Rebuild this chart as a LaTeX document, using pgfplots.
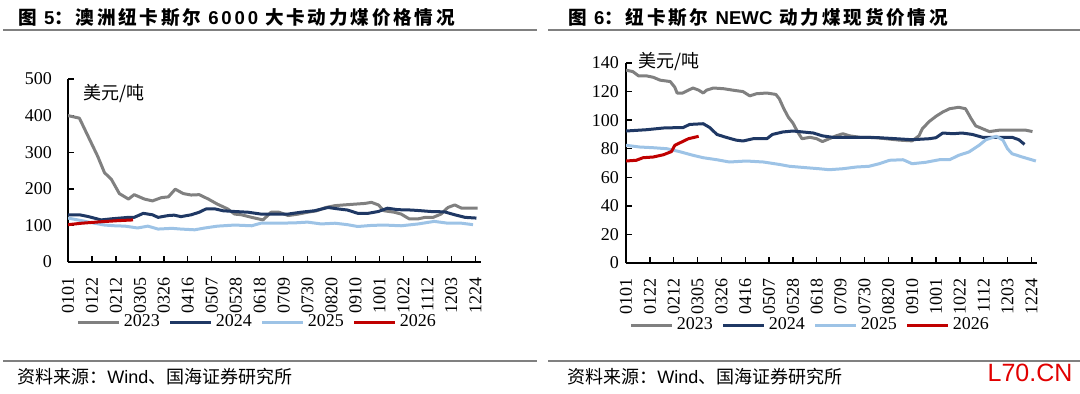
\documentclass[border=0pt]{standalone}
\usepackage{fontspec}
\usepackage{pgfplots}
\pgfplotsset{compat=1.18}
\setmainfont{Liberation Serif}
\newfontfamily\serif{Liberation Serif}
\newfontfamily\cjk{Noto Sans CJK SC}
\newfontfamily\titlecjk{Noto Sans CJK SC}[LetterSpace=15]
\newfontfamily\titlearial{Liberation Sans}[LetterSpace=15]
\newfontfamily\arial{Liberation Sans}
\definecolor{cgray}{RGB}{128,128,128}
\definecolor{cdark}{RGB}{31,56,100}
\definecolor{clight}{RGB}{157,195,230}
\definecolor{cred}{RGB}{192,0,0}
\definecolor{rulegray}{RGB}{128,128,128}
\newcommand\tl[1]{{\fontsize{9}{10}\selectfont\serif #1}}
\pgfplotsset{
  coalstyle/.style={
    scale only axis,
    clip mode=individual,
    axis lines=left,
    axis line style={-, line width=0.7pt, black},
    tick align=inside,
    major tick length=3pt,
    tick style={black, line width=0.7pt},
    xmin=0, xmax=362, ymin=0,
    xtick={0,21,42,63,84,105,126,147,168,189,210,231,252,273,294,315,336,357},
    xticklabels={\tl{0101},\tl{0122},\tl{0212},\tl{0305},\tl{0326},\tl{0416},\tl{0507},\tl{0528},\tl{0618},\tl{0709},\tl{0730},\tl{0820},\tl{0910},\tl{1001},\tl{1022},\tl{1112},\tl{1203},\tl{1224}},
    yticklabel={\tl{\pgfmathprintnumber{\tick}}},
    /pgf/number format/assume math mode=true,
    xticklabel style={rotate=90, anchor=east},
    xticklabel shift=4pt,
    legend columns=4,
    legend style={draw=none, fill=none, font=\fontsize{9}{10}\selectfont\serif, inner sep=0pt,
      nodes={inner sep=1.5pt},
      /tikz/every even column/.append style={column sep=3pt}},
    legend image code/.code={\draw[#1] (0pt,0pt) -- (20.5pt,0pt);},
    every axis plot/.append style={line width=1.5pt, no markers, line join=round},
  }
}
\begin{document}
\begin{tikzpicture}
\path[use as bounding box] (0,0) rectangle (540pt,196.5pt);
% titles and rules
\node[anchor=west, inner sep=0pt] at (9pt,187.5pt) {\fontsize{9.3}{10}\selectfont\titlecjk\bfseries 图 {\titlearial\bfseries 5}：澳洲纽卡斯尔 {\titlearial\bfseries 6000} 大卡动力煤价格情况};
\node[anchor=west, inner sep=0pt] at (284pt,187.5pt) {\fontsize{9.3}{10}\selectfont\titlecjk\bfseries 图 {\titlearial\bfseries 6}：纽卡斯尔 {\arial\bfseries NEWC} 动力煤现货价情况};
\draw[rulegray, line width=1pt] (1.5pt,181.5pt) -- (268.5pt,181.5pt);
\draw[rulegray, line width=1pt] (274pt,181.5pt) -- (540pt,181.5pt);
\draw[rulegray, line width=1pt] (1.5pt,16pt) -- (268.5pt,16pt);
\draw[rulegray, line width=1pt] (274pt,16pt) -- (540pt,16pt);
\node[anchor=west, inner sep=0pt] at (8.5pt,8pt) {\fontsize{9}{10}\selectfont\cjk 资料来源：{\arial Wind}、国海证券研究所};
\node[anchor=west, inner sep=0pt] at (283.5pt,8pt) {\fontsize{9}{10}\selectfont\cjk 资料来源：{\arial Wind}、国海证券研究所};
\node[inner sep=0pt, text={rgb,255:red,225;green,0;blue,0}] at (515pt,10pt) {\fontsize{12.5}{13}\selectfont\arial L70.CN};

% left axis
\begin{axis}[coalstyle, at={(34pt,65.5pt)}, anchor=south west,
  width=206.5pt, height=91.5pt, ymax=500, ytick={0,100,200,300,400,500},
  yticklabel shift=4.5pt,
  legend style={at={(0.46,-0.33)}, anchor=center}]
\addplot[cgray] coordinates {(0,400)(10,393)(26,289)(32,244)(38,226)(45,187)(53,172)(58,184)(67,172)(74,167)(82,176)(88,178)(94,199)(101,187)(108,183)(115,184)(123,172)(131,158)(140,145)(146,131)(152,129)(161,122)(171,115)(178,136)(185,136)(193,127)(202,131)(210,136)(218,140)(226,149)(234,154)(242,156)(251,158)(260,160)(266,163)(272,156)(277,140)(286,136)(292,131)(299,118)(307,118)(313,122)(320,122)(327,131)(333,149)(339,156)(345,147)(359,147)};
\addlegendentry{2023}
\addplot[cdark] coordinates {(0,129)(10,129)(18,124)(29,115)(38,118)(53,122)(58,122)(66,133)(74,129)(79,122)(88,127)(93,128)(99,124)(108,129)(115,136)(121,145)(129,145)(136,140)(146,138)(158,136)(169,131)(181,131)(193,131)(204,136)(216,140)(228,149)(237,145)(245,142)(254,133)(263,133)(272,138)(280,147)(289,143)(301,142)(310,140)(318,138)(330,137)(339,129)(348,122)(358,120)};
\addlegendentry{2024}
\addplot[clight] coordinates {(0,120)(12,113)(23,106)(32,101)(41,99)(50,98)(61,93)(70,98)(79,90)(91,92)(99,90)(111,88)(120,93)(131,98)(146,101)(161,99)(169,106)(184,106)(199,107)(210,109)(222,104)(234,106)(245,102)(254,97)(266,100)(277,101)(292,99)(307,104)(321,111)(333,106)(345,106)(355,102)};
\addlegendentry{2025}
\addplot[cred] coordinates {(0,102)(12,106)(29,110)(44,113)(57,115)};
\addlegendentry{2026}
\node[anchor=west, inner sep=0pt] at (rel axis cs:0.036,0.92) {\fontsize{9}{10}\selectfont\cjk 美元/吨};
\end{axis}

% right axis
\begin{axis}[coalstyle, at={(313pt,65pt)}, anchor=south west,
  width=205.5pt, height=100pt, ymax=140, ytick={0,20,40,60,80,100,120,140},
  legend style={at={(0.45,-0.31)}, anchor=center}]
\addplot[cgray] coordinates {(0,135)(6,134)(11,131)(18,131)(24,130)(30,128)(39,127)(43,123)(45,119)(50,119)(55,121)(59,122.5)(64,121)(68,119)(71,121)(77,122.5)(86,122)(94,121)(103,120)(109,117)(115,118.5)(124,119)(132,118)(135,115)(139,108)(143,102)(147,98)(151,92)(155,87)(162,88)(168,87)(173,85)(179,87)(185,89)(191,90.5)(197,89)(206,88)(217,88)(229,87)(241,86)(252,85.5)(258,89)(261,94)(267,99)(273,102.7)(279,105.7)(285,108)(293,109)(299,108)(304,101)(308,96)(314,94)(320,92)(329,93)(340,93)(352,93)(358,92)};
\addlegendentry{2023}
\addplot[cdark] coordinates {(0,92.4)(18,93.3)(33,94.5)(42,94.7)(50,94.7)(56,97)(68,97.5)(74,94.7)(80,90)(88,88)(97,86)(103,85.4)(112,87)(124,87)(129,90)(138,91.7)(147,92.4)(156,91.7)(165,91)(173,89)(182,88)(194,88)(209,88)(223,87.7)(238,87)(252,86.3)(267,87)(273,87.7)(279,91)(288,90.5)(296,91)(305,90)(314,88)(326,88)(340,88)(346,86.3)(351,83)};
\addlegendentry{2024}
\addplot[clight] coordinates {(0,82.4)(12,81.2)(24,80.7)(36,80)(47,78)(59,75.4)(68,73.7)(80,72.3)(91,70.7)(106,71.4)(121,70.7)(135,69)(144,67.7)(159,66.7)(170,66)(179,65.3)(191,66)(203,67.2)(214,67.7)(223,69.5)(232,71.9)(244,72.3)(252,69.5)(264,70.5)(276,72.3)(285,72.3)(293,75.4)(302,77.7)(311,82.4)(317,86.3)(326,88.7)(332,86)(336,80)(340,76.5)(349,74.2)(361,71.4)};
\addlegendentry{2025}
\addplot[cred] coordinates {(0,71.4)(9,71.9)(15,73.7)(24,74.2)(33,75.8)(40,78)(43,82.4)(49,84.7)(55,87)(64,88.7)};
\addlegendentry{2026}
\node[anchor=west, inner sep=0pt, yshift=0.5pt] at (rel axis cs:0.03,1) {\fontsize{9}{10}\selectfont\cjk 美元/吨};
\end{axis}
\end{tikzpicture}
\end{document}
